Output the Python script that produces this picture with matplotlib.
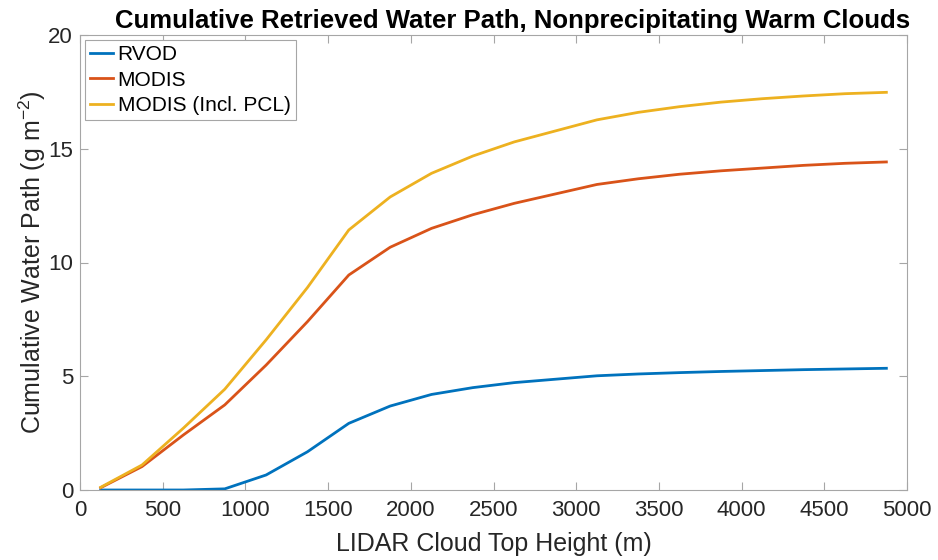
import matplotlib.pyplot as plt

plt.rcParams['font.family'] = ['Liberation Sans', 'DejaVu Sans']
plt.rcParams['mathtext.fontset'] = 'custom'
plt.rcParams['mathtext.rm'] = 'Liberation Sans'

# cloud top height bins (m)
heights = [125, 375, 625, 875, 1125, 1375, 1625, 1875, 2125, 2375, 2625,
           3125, 3375, 3625, 3875, 4125, 4375, 4625, 4875]

rvod = [0.0, 0.0, 0.0, 0.05, 0.66, 1.68, 2.93, 3.69, 4.2, 4.5, 4.72,
        5.02, 5.1, 5.16, 5.21, 5.25, 5.29, 5.32, 5.35]
modis = [0.1, 1.03, 2.42, 3.74, 5.49, 7.4, 9.45, 10.67, 11.5, 12.1, 12.6,
         13.43, 13.68, 13.88, 14.03, 14.15, 14.27, 14.36, 14.42]
modis_pcl = [0.12, 1.1, 2.72, 4.43, 6.6, 8.9, 11.43, 12.88, 13.92, 14.68, 15.3,
             16.27, 16.6, 16.85, 17.05, 17.2, 17.32, 17.42, 17.48]

fig = plt.figure(figsize=(9.38, 5.6), dpi=100)
ax = fig.add_axes([0.0853, 0.125, 0.8817, 0.8125])

ax.plot(heights, rvod, color='#0072BD', lw=2, label='RVOD')
ax.plot(heights, modis, color='#D95319', lw=2, label='MODIS')
ax.plot(heights, modis_pcl, color='#EDB120', lw=2, label='MODIS (Incl. PCL)')

ax.set_xlim(0, 5000)
ax.set_ylim(0, 20)
ax.set_xticks(range(0, 5001, 500))
ax.set_yticks(range(0, 21, 5))

for s in ax.spines.values():
    s.set_color('#A6A6A6')
ax.tick_params(direction='in', top=True, right=True, length=6,
               color='#A6A6A6', labelsize=16, labelcolor='#262626')
ax.tick_params(axis='x', pad=7)
ax.tick_params(axis='y', pad=5)

ax.set_xlabel('LIDAR Cloud Top Height (m)', fontsize=18, color='#262626',
              labelpad=8)
ax.set_ylabel('Cumulative Water Path (g m$^{\\mathregular{-2}}$)', fontsize=18,
              color='#262626', labelpad=0)
ax.set_title('Cumulative Retrieved Water Path, Nonprecipitating Warm Clouds',
             fontsize=18.5, fontweight='bold', pad=5, x=0.523)

leg = ax.legend(loc='upper left', fontsize=15, fancybox=False, framealpha=1,
                edgecolor='#A6A6A6', handlelength=1.1, handletextpad=0.2,
                borderaxespad=0.25, borderpad=0.25, labelspacing=0.3)
leg.get_frame().set_linewidth(0.8)

fig.savefig('out.png', dpi=100)
